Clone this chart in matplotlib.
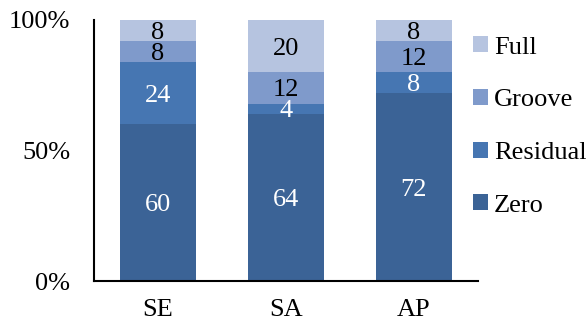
import matplotlib
matplotlib.use("Agg")
import matplotlib.pyplot as plt
from matplotlib.patches import Patch
import numpy as np

categories = ["SE", "SA", "AP"]
series_names = ["Zero", "Residual", "Groove", "Full"]
zero = [60, 64, 72]
residual = [24, 4, 8]
groove = [8, 12, 12]
full = [8, 20, 8]
colors = ["#3B6396", "#4676B2", "#7F9ACB", "#B6C4E0"]
text_colors = ["white", "white", "black", "black"]

plt.rcParams['font.family'] = ['Liberation Serif', 'DejaVu Serif']

fig = plt.figure(figsize=(5.86, 3.25), dpi=100)
ax = fig.add_axes([94/586, 44/325, (478-94)/586, (281-20)/325])

x = np.arange(len(categories))
bottom = np.zeros(len(categories))
data = [zero, residual, groove, full]
for vals, col, tc in zip(data, colors, text_colors):
    vals = np.array(vals, dtype=float)
    ax.bar(x, vals, 0.6, bottom=bottom, color=col, linewidth=0)
    for xi, b, v in zip(x, bottom, vals):
        ax.text(xi, b + v / 2, f"{int(v)}", ha="center", va="center_baseline",
                color=tc, fontsize=19)
    bottom += vals

ax.set_xlim(-0.5, 2.5)
ax.set_ylim(0, 100)
ax.set_yticks([0, 50, 100])
ax.set_yticklabels(["0%", "50%", "100%"], fontsize=19)
ax.set_xticks(x)
ax.set_xticklabels(categories, fontsize=19)
ax.tick_params(axis="both", length=0)
ax.tick_params(axis="x", pad=13)
ax.tick_params(axis="y", pad=17)
for s in ["top", "right"]:
    ax.spines[s].set_visible(False)
for s in ["left", "bottom"]:
    ax.spines[s].set_linewidth(1.5)

handles = [Patch(facecolor=c, edgecolor="none") for c in colors[::-1]]
fig.legend(handles, series_names[::-1], loc="center left",
           bbox_to_anchor=(473/586, 1 - 126.5/325), frameon=False,
           fontsize=19, handlelength=0.55, handleheight=0.55,
           handletextpad=0.25, labelspacing=1.15, borderpad=0,
           borderaxespad=0)

fig.savefig("out.png", dpi=100)
